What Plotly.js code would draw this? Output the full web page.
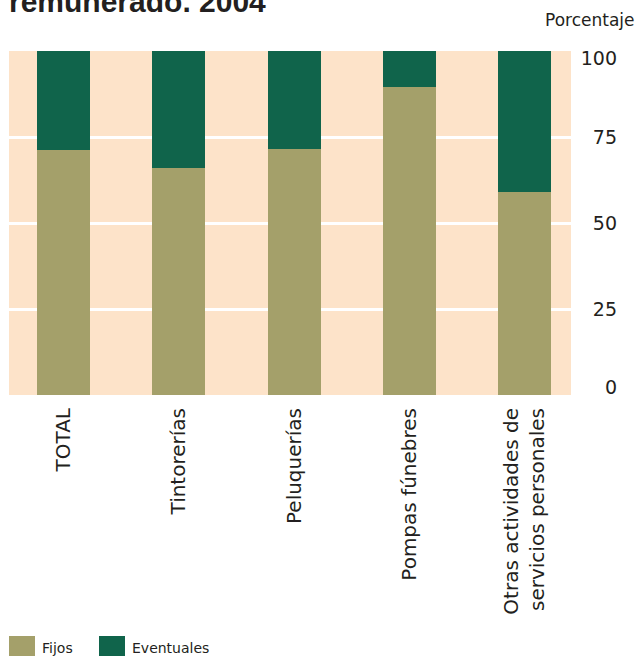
<!DOCTYPE html>
<html>
<head>
<meta charset="utf-8">
<script src="https://cdn.plot.ly/plotly-3.0.1.min.js"></script>
<style>html,body{margin:0;padding:0;background:#fff;}#chart{width:639px;height:656px;}</style>
</head>
<body>
<div id="chart"></div>
<script>
// ---- data ----
const categories = ["TOTAL", "Tintorerías", "Peluquerías", "Pompas fúnebres", "Otras actividades de<br>servicios personales"];
const seriesNames = ["Fijos", "Eventuales"];
const fijos = [71.2, 66.0, 71.5, 89.6, 59.0];
const eventuales = [28.8, 34.0, 28.5, 10.4, 41.0];
const yTickValues = [0, 25, 50, 75, 100];
const yTickLabels = ["0", "25", "50", "75", "100"];
const titleText = "remunerado. 2004";
const unitText = "Porcentaje";

// ---- layout helpers (pixel -> paper) ----
const W = 639, H = 656;
const px = x => x / W;
const py = y => 1 - y / H;
const colors = ["#A4A06A", "#10644B"];
const font = "DejaVu Sans, sans-serif";

const traces = [
  {type: "bar", name: seriesNames[0], x: categories, y: fijos, marker: {color: colors[0]}, width: 0.46, hoverinfo: "y", showlegend: false},
  {type: "bar", name: seriesNames[1], x: categories, y: eventuales, marker: {color: colors[1]}, width: 0.46, hoverinfo: "y", showlegend: false},
  // invisible trace to carry the label axis
  {type: "scatter", x: [categories[0]], y: [0], yaxis: "y2", mode: "none", showlegend: false, hoverinfo: "skip"}
];

// label positions nudged inward at ends like the original
const labelVals = yTickValues.map(v => v === 0 ? 2.2 : (v === 100 ? 97.8 : v));

const shapes = [];
const annotations = [
  {text: "<b>" + titleText + "</b>", xref: "paper", yref: "paper", x: px(7), y: py(20), xanchor: "left", yanchor: "bottom",
   showarrow: false, font: {family: "Liberation Sans, Arial, sans-serif", size: 30, color: "#231f20"}},
  {text: unitText, xref: "paper", yref: "paper", x: px(637), y: py(20), xanchor: "right", yanchor: "middle",
   showarrow: false, font: {family: font, size: 17, color: "#231f20"}}
];
// custom legend with large swatches
const legendX = [9, 99];
seriesNames.forEach((n, i) => {
  shapes.push({type: "rect", xref: "paper", yref: "paper", x0: px(legendX[i]), x1: px(legendX[i] + 26),
    y0: py(636), y1: py(660), fillcolor: colors[i], line: {width: 0}});
  annotations.push({text: n, xref: "paper", yref: "paper", x: px(legendX[i] + 31), y: py(648), xanchor: "left", yanchor: "middle",
    showarrow: false, font: {family: font, size: 14, color: "#231f20"}});
});

const layout = {
  width: W, height: H,
  margin: {l: 0, r: 0, t: 0, b: 0},
  paper_bgcolor: "#ffffff",
  plot_bgcolor: "#FDE3C9",
  barmode: "stack",
  bargap: 0,
  showlegend: false,
  xaxis: {
    domain: [px(9), px(571)],
    type: "category",
    range: [-0.47, 4.4],
    tickangle: -90,
    ticks: "", showline: false, showgrid: false, zeroline: false,
    ticklabelstandoff: 8,
    tickfont: {family: font, size: 20, color: "#231f20"},
    fixedrange: true
  },
  yaxis: {
    domain: [py(395), py(51)],
    range: [0, 100],
    tickvals: yTickValues,
    showticklabels: false,
    ticks: "",
    showgrid: true, gridcolor: "#ffffff", gridwidth: 3,
    zeroline: false, showline: false,
    fixedrange: true
  },
  yaxis2: {
    overlaying: "y",
    anchor: "free",
    position: px(617),
    side: "left",
    range: [0, 100],
    tickvals: labelVals,
    ticktext: yTickLabels,
    ticks: "",
    showgrid: false, zeroline: false, showline: false,
    tickfont: {family: font, size: 19, color: "#231f20"},
    fixedrange: true
  },
  shapes: shapes,
  annotations: annotations
};

Plotly.newPlot("chart", traces, layout, {displayModeBar: false, staticPlot: true});
</script>
</body>
</html>
